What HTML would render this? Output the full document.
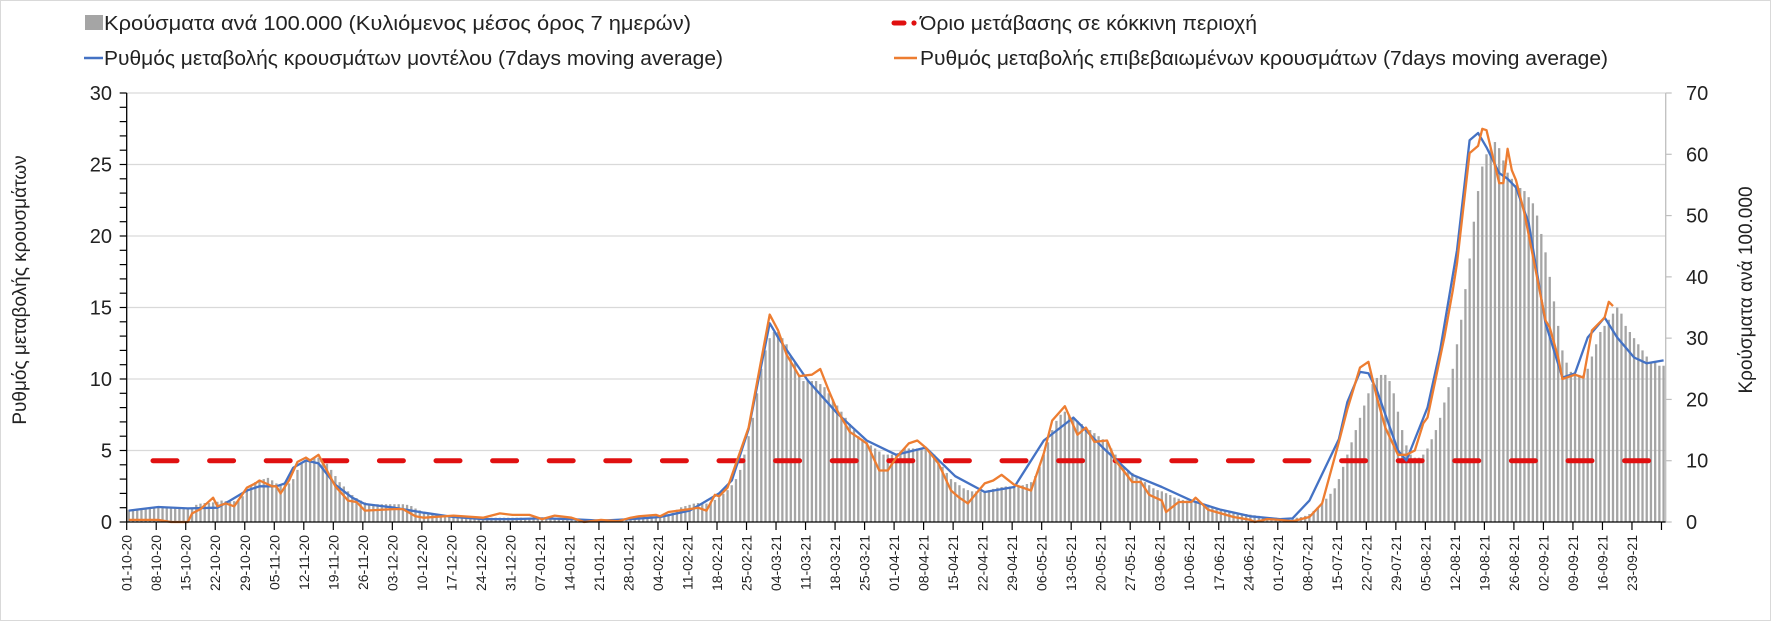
<!DOCTYPE html>
<html><head><meta charset="utf-8"><style>
html,body{margin:0;padding:0;background:#fff}
svg{display:block;font-family:"Liberation Sans","DejaVu Sans",sans-serif}
</style></head><body>
<svg id="chart" width="1771" height="621" viewBox="0 0 1771 621" xmlns="http://www.w3.org/2000/svg">
<rect x="0.5" y="0.5" width="1770" height="620" fill="#fff" stroke="#D9D9D9"/>
<g id="grid"></g>
<g id="bars"></g>
<g id="lines"></g>
<g id="axes"></g>
<g>
 <g>
  <rect x="85" y="15" width="18" height="15" fill="#A5A5A5"/>
  <text x="104" y="30" font-size="20" textLength="587" lengthAdjust="spacingAndGlyphs" fill="#222">Κρούσματα ανά 100.000 (Κυλιόμενος μέσος όρος 7 ημερών)</text>
 </g>
 <g>
  <line x1="84" y1="58" x2="103" y2="58" stroke="#4472C4" stroke-width="2.5"/>
  <text x="104" y="65" font-size="20" textLength="619" lengthAdjust="spacingAndGlyphs" fill="#222">Ρυθμός μεταβολής κρουσμάτων μοντέλου (7days moving average)</text>
 </g>
 <g>
  <line x1="894" y1="23" x2="904" y2="23" stroke="#E01010" stroke-width="5" stroke-linecap="round"/>
  <circle cx="914" cy="23" r="2.6" fill="#E01010"/>
  <text x="920" y="30" font-size="20" textLength="337" lengthAdjust="spacingAndGlyphs" fill="#222">Όριο μετάβασης σε κόκκινη περιοχή</text>
 </g>
 <g>
  <line x1="894" y1="58" x2="917" y2="58" stroke="#ED7D31" stroke-width="2.5"/>
  <text x="920" y="65" font-size="20" textLength="688" lengthAdjust="spacingAndGlyphs" fill="#222">Ρυθμός μεταβολής επιβεβαιωμένων κρουσμάτων (7days moving average)</text>
 </g>
</g>
<text transform="translate(26,290) rotate(-90)" text-anchor="middle" font-size="19" fill="#222">Ρυθμός μεταβολής κρουσμάτων</text>
<text transform="translate(1752,290) rotate(-90)" text-anchor="middle" font-size="19" fill="#222">Κρούσματα ανά 100.000</text>
</svg>
<script>
const barValues = [
2.0,2.1,2.2,2.2,2.3,2.3,2.3,
2.3,2.3,2.4,2.3,2.2,2.2,2.1,
2.1,2.2,2.8,3.0,3.1,3.1,3.2,
3.3,3.5,3.4,3.3,3.4,3.6,4.2,
5.0,5.8,6.5,6.8,7.0,7.2,6.8,
6.3,6.2,6.2,6.3,7.0,8.5,9.5,
10.0,10.3,10.5,10.5,10.2,9.5,8.5,
7.5,6.5,5.8,5.0,4.4,3.9,3.5,
3.2,3.0,2.9,2.9,2.9,2.9,2.9,
2.9,2.9,2.9,2.8,2.6,2.2,1.9,
1.6,1.4,1.3,1.2,1.1,1.0,0.9,
0.9,0.8,0.8,0.7,0.7,0.7,0.7,
0.7,0.7,0.7,0.7,0.7,0.7,0.7,
0.7,0.7,0.7,0.6,0.6,0.6,0.6,
0.5,0.5,0.5,0.5,0.5,0.5,0.5,
0.5,0.5,0.4,0.4,0.4,0.4,0.4,
0.4,0.4,0.4,0.4,0.4,0.5,0.5,
0.5,0.5,0.6,0.6,0.7,0.7,0.8,
0.9,1.0,1.2,1.5,2.0,2.4,2.6,
2.8,3.0,3.1,3.0,3.0,3.2,3.6,
4.0,4.6,5.2,6.0,7.0,8.5,11,
14,17,21,25,28,30,31,
31,30,29,27,26,24,23,
23,23,23,22.5,22,21,20,
19,18,17,16,15,14,13.5,
13,12.5,12,11.5,11,11,11,
11,11.5,12,12,12,12,12,
12,11.5,11,10,9,8,7,
6.5,6,5.5,5.2,5,5,5,
5,5.2,5.4,5.6,5.7,5.8,5.8,
5.8,5.9,6,6.2,6.5,7.5,9,
11,13,15,16.5,17.5,18,17.5,
17,16.5,16,15.5,15,14.5,14,
13.5,13,12,11,10,9,8.5,
8,7.5,7,6.5,6,5.5,5.2,
5,4.7,4.4,4,3.8,3.6,3.5,
3.4,3.3,3.2,3,2.8,2.5,2.2,
2,1.9,1.8,1.6,1.5,1.4,1.3,
1.2,1.1,1,0.9,0.8,0.7,0.7,
0.6,0.6,0.6,0.6,0.7,0.8,1.0,
1.3,1.8,2.4,3.0,3.8,4.6,5.5,
7,9,11,13,15,17,19,
21,22.5,23.5,24,24,23,21,
18,15,12.5,11,10.5,10.5,11,
12,13.5,15,17,19.5,22,25,
29,33,38,43,49,54,58,
60,61,62,61,59,57,56,
55,54.5,54,53,52,50,47,
44,40,36,32,28,26,24.5,
24,24,24,25,27,29,31,
32,33,34,35,34,32,31,
30,29,28,27,26,26,25.5,
25.5];
const modelRate = [[0,0.8],[7,1.05],[14,0.95],[21,1.0],[24,1.5],[28,2.2],[31,2.5],[35,2.5],[37,2.7],[39,3.8],[42,4.3],[45,4.1],[49,2.6],[53,1.7],[56,1.26],[63,1.0],[70,0.65],[77,0.35],[84,0.2],[91,0.2],[98,0.25],[105,0.2],[112,0.1],[119,0.2],[126,0.35],[133,0.8],[136,1.3],[140,2.0],[143,2.9],[147,6.5],[152,13.9],[154,12.9],[161,9.9],[168,7.6],[175,5.7],[182,4.7],[189,5.2],[196,3.2],[203,2.1],[210,2.45],[217,5.7],[224,7.3],[231,5.2],[238,3.3],[245,2.45],[252,1.5],[259,0.85],[266,0.4],[273,0.2],[276,0.25],[280,1.5],[287,5.8],[289,8.4],[292,10.5],[294,10.4],[296,9.2],[301,5.0],[303,4.3],[308,8.0],[311,12.0],[315,19.0],[318,26.7],[320,27.2],[322,26.2],[325,24.4],[327,24.0],[329,23.4],[332,20.9],[336,13.9],[340,10.1],[343,10.4],[346,12.9],[350,14.3],[353,12.9],[357,11.5],[360,11.1],[364,11.3]];
const confirmedRate = [[0,0.15],[7,0.15],[10,0],[14,0],[15,0.6],[17,0.9],[20,1.7],[21,1.1],[23,1.3],[25,1.1],[28,2.4],[30,2.7],[31,2.9],[34,2.5],[35,2.5],[36,2.0],[38,2.9],[40,4.2],[42,4.5],[43,4.3],[45,4.7],[49,2.5],[52,1.5],[54,1.4],[56,0.8],[63,0.9],[65,0.9],[68,0.4],[70,0.3],[77,0.45],[84,0.3],[88,0.6],[91,0.5],[95,0.5],[98,0.2],[101,0.45],[105,0.3],[108,0],[112,0.15],[116,0.05],[119,0.3],[121,0.4],[125,0.5],[126,0.4],[128,0.7],[133,0.9],[135,1.0],[137,0.8],[139,1.9],[140,1.8],[142,2.4],[147,6.6],[152,14.5],[154,13.4],[156,11.7],[159,10.2],[162,10.3],[164,10.7],[166,9.2],[168,7.8],[171,6.3],[173,5.9],[175,5.5],[178,3.6],[180,3.6],[182,4.5],[185,5.5],[187,5.7],[189,5.2],[192,4.1],[195,2.2],[197,1.7],[199,1.3],[203,2.7],[205,2.9],[207,3.3],[210,2.6],[214,2.2],[217,4.8],[219,7.1],[222,8.1],[225,6.1],[227,6.6],[229,5.6],[232,5.7],[234,4.3],[238,2.8],[240,2.8],[242,1.9],[245,1.5],[246,0.7],[249,1.4],[252,1.4],[253,1.7],[256,0.85],[259,0.6],[262,0.35],[266,0.15],[267,0],[270,0.2],[273,0.15],[276,0.05],[280,0.35],[283,1.3],[287,5.6],[289,7.9],[292,10.8],[294,11.2],[296,8.7],[298,6.6],[301,4.7],[303,4.7],[305,5.0],[307,6.9],[308,7.3],[310,10.1],[312,12.9],[314,16.2],[315,18.1],[318,25.8],[320,26.3],[321,27.5],[322,27.4],[325,23.7],[326,23.7],[327,26.1],[328,24.6],[329,23.9],[331,21.6],[334,17.1],[336,14.1],[337,13.6],[339,11.5],[340,10.0],[343,10.3],[345,10.1],[347,13.4],[350,14.3],[351,15.4],[352,15.1]];
const thresholdValue = [10];
const weekLabels = ["01-10-20","08-10-20","15-10-20","22-10-20","29-10-20","05-11-20","12-11-20","19-11-20","26-11-20","03-12-20","10-12-20","17-12-20","24-12-20","31-12-20","07-01-21","14-01-21","21-01-21","28-01-21","04-02-21","11-02-21","18-02-21","25-02-21","04-03-21","11-03-21","18-03-21","25-03-21","01-04-21","08-04-21","15-04-21","22-04-21","29-04-21","06-05-21","13-05-21","20-05-21","27-05-21","03-06-21","10-06-21","17-06-21","24-06-21","01-07-21","08-07-21","15-07-21","22-07-21","29-07-21","05-08-21","12-08-21","19-08-21","26-08-21","02-09-21","09-09-21","16-09-21","23-09-21"];
const leftTicks = [0,5,10,15,20,25,30];
const rightTicks = [0,10,20,30,40,50,60,70];

const NS = "http://www.w3.org/2000/svg";
const X0 = 126.7, X1 = 1665.7, YT = 93, YB = 522;
const nDays = barValues.length;
const bw = (X1 - X0) / nDays;
const xBoundary = d => X0 + d * bw;
const xDay = d => X0 + (d + 0.5) * bw;
const yLeft = v => YB - v / 30 * (YB - YT);
const yRight = v => YB - v / 70 * (YB - YT);
function mk(tag, attrs, parent) {
  const e = document.createElementNS(NS, tag);
  for (const k in attrs) e.setAttribute(k, attrs[k]);
  parent.appendChild(e);
  return e;
}
const grid = document.getElementById('grid');
const barsG = document.getElementById('bars');
const linesG = document.getElementById('lines');
const axesG = document.getElementById('axes');

leftTicks.forEach(t => {
  if (t === 0) return;
  const g = mk('line', {x1: X0, x2: X1, y1: yLeft(t), y2: yLeft(t), stroke: '#D9D9D9', 'stroke-width': 1.3}, grid);
  
  
});

barValues.forEach((v, i) => {
  const r = mk('rect', {x: xDay(i) - 1.15, y: yRight(v), width: 2.3, height: YB - yRight(v), fill: '#A5A5A5'}, barsG);
  
  
});

const th = mk('line', {x1: 153, x2: 1653, y1: yRight(thresholdValue[0]), y2: yRight(thresholdValue[0]), stroke: '#E01010', 'stroke-width': 5, 'stroke-dasharray': '24 32.6', 'stroke-linecap': 'round'}, linesG);



function path(series) {
  return series.map((p, i) => (i ? 'L' : 'M') + xDay(p[0]).toFixed(1) + ',' + yLeft(p[1]).toFixed(1)).join(' ');
}
const blue = mk('path', {d: path(modelRate), fill: 'none', stroke: '#4472C4', 'stroke-width': 2.3, 'stroke-linejoin': 'round'}, linesG);


const orange = mk('path', {d: path(confirmedRate), fill: 'none', stroke: '#ED7D31', 'stroke-width': 2.3, 'stroke-linejoin': 'round'}, linesG);



// axes
const la = mk('line', {x1: X0, x2: X0, y1: YT, y2: YB, stroke: '#000', 'stroke-width': 1.3}, axesG);


const ra = mk('line', {x1: X1, x2: X1, y1: YT, y2: YB, stroke: '#BFBFBF', 'stroke-width': 1.3}, axesG);


const ba = mk('line', {x1: X0, x2: X1, y1: YB, y2: YB, stroke: '#000', 'stroke-width': 1.3}, axesG);



for (let v = 0; v <= 30; v++) {
  const t = mk('line', {x1: X0 - 7, x2: X0, y1: yLeft(v), y2: yLeft(v), stroke: '#000', 'stroke-width': 1.2}, axesG);
  
  
}
leftTicks.forEach(v => {
  const t = mk('text', {x: 112, y: yLeft(v) + 7, 'text-anchor': 'end', 'font-size': 20, fill: '#222'}, axesG);
  t.textContent = v;
  
  
});
rightTicks.forEach(v => {
  const tk = mk('line', {x1: X1, x2: X1 + 6, y1: yRight(v), y2: yRight(v), stroke: '#BFBFBF', 'stroke-width': 1.2}, axesG);
  
  
  const t = mk('text', {x: 1686, y: yRight(v) + 7, 'text-anchor': 'start', 'font-size': 20, fill: '#222'}, axesG);
  t.textContent = v;
  
  
});
for (let w = 0; w <= weekLabels.length; w++) {
  const x = xBoundary(w * 7);
  const tk = mk('line', {x1: x, x2: x, y1: YB, y2: YB + 8, stroke: '#000', 'stroke-width': 1.2}, axesG);
  
  
  if (w < weekLabels.length) {
    const t = mk('text', {transform: 'translate(' + (x + 5).toFixed(1) + ',535) rotate(-90)', 'text-anchor': 'end', 'font-size': 14, fill: '#222'}, axesG);
    t.textContent = weekLabels[w];
    
    
  }
}
</script>
</body></html>
